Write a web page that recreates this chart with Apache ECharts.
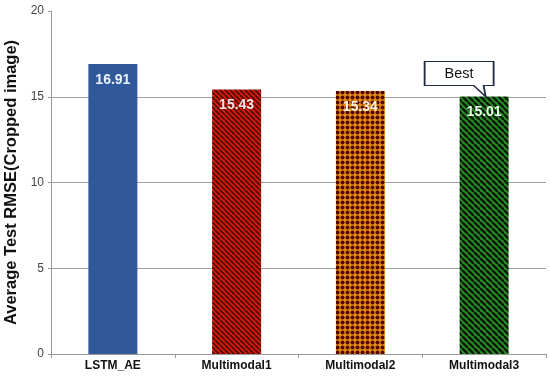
<!DOCTYPE html>
<html><head><meta charset="utf-8">
<script src="https://cdn.jsdelivr.net/npm/echarts@6/dist/echarts.min.js"></script>
<style>html,body{margin:0;padding:0;background:#fff}#c{width:550px;height:376px}</style>
</head><body><div id="c"></div>
<script>
const categories = ['LSTM_AE', 'Multimodal1', 'Multimodal2', 'Multimodal3'];
const rmseValues = [16.91, 15.43, 15.34, 15.01];
const yTicks = [0, 5, 10, 15, 20];
const bestLabel = 'Best';
const yAxisTitle = 'Average Test RMSE(Cropped image)';

function stripePattern(bg, fg, p, w) {
  const c = document.createElement('canvas');
  c.width = p; c.height = p;
  const g = c.getContext('2d');
  g.fillStyle = bg; g.fillRect(0, 0, p, p);
  g.strokeStyle = fg; g.lineWidth = w;
  for (let k = -p; k <= 2 * p; k += p) {
    g.beginPath(); g.moveTo(k, 0); g.lineTo(k + p, p); g.stroke();
  }
  return {image: c, repeat: 'repeat'};
}
function dotPattern(bg, fg) {
  const c = document.createElement('canvas');
  c.width = 5; c.height = 5;
  const g = c.getContext('2d');
  g.fillStyle = bg; g.fillRect(0, 0, 5, 5);
  g.fillStyle = fg;
  g.beginPath(); g.arc(2.5, 2.5, 2.0, 0, Math.PI * 2); g.fill();
  return {image: c, repeat: 'repeat'};
}
const fills = [
  '#30589A',
  stripePattern('#D41C0C', '#4A0800', 5, 1.6),
  dotPattern('#E38C14', '#560800'),
  stripePattern('#2A8C26', '#0A1A06', 6, 2.4)
];
const labelColors = ['#EAF4FF', '#FFE0E6', '#FFF4E4', '#E6FFE6'];

const chart = echarts.init(document.getElementById('c'), null, {renderer: 'canvas'});
chart.setOption({
  animation: false,
  grid: {left: 51, right: 4, top: 11, bottom: 22, containLabel: false, outerBoundsMode: 'none'},
  xAxis: {
    type: 'category', data: categories,
    axisLine: {lineStyle: {color: '#999', width: 1}},
    axisTick: {show: true, length: 4, lineStyle: {color: '#999'}},
    axisLabel: {color: '#111', fontWeight: 'bold', fontSize: 12, fontFamily: 'Liberation Sans, Arial', margin: 6}
  },
  yAxis: {
    type: 'value', min: yTicks[0], max: yTicks[yTicks.length - 1], interval: 5,
    name: yAxisTitle, nameLocation: 'middle', nameGap: 30,
    nameTextStyle: {fontSize: 16.5, fontWeight: 'bold', color: '#111', fontFamily: 'Liberation Sans, Arial'},
    axisLine: {show: true, lineStyle: {color: '#999'}},
    axisTick: {show: true, length: 3, lineStyle: {color: '#999'}},
    axisLabel: {color: '#444', fontSize: 12, fontFamily: 'Liberation Sans, Arial', margin: 7},
    splitLine: {show: true, showMaxLine: false, lineStyle: {color: '#A0A0A0', width: 1}}
  },
  series: [{
    type: 'bar', barWidth: 49,
    data: rmseValues.map((v, i) => ({
      value: v,
      itemStyle: {color: fills[i]},
      label: {color: labelColors[i]}
    })),
    label: {show: true, position: 'insideTop', distance: 9, fontSize: 14, fontWeight: 'bold', fontFamily: 'Liberation Sans, Arial'},
    markPoint: {
      silent: true,
      data: [{
        coord: [categories[3], rmseValues[3]],
        symbol: 'path://M0 0 H69 V24 H59 L61 35 L49 24 H0 Z',
        symbolSize: [69, 35],
        symbolKeepAspect: false,
        symbolOffset: [-25, -17.5],
        itemStyle: {color: '#fff', borderColor: '#1F2A44', borderWidth: 1.3},
        label: {show: true, formatter: bestLabel, position: 'inside', offset: [0, -5.5], color: '#111', fontSize: 14.5, fontFamily: 'Liberation Sans, Arial'}
      }]
    }
  }]
});
</script></body></html>
